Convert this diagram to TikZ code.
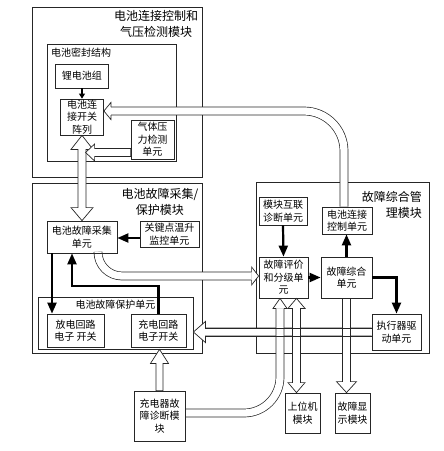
\documentclass[tikz,border=0pt]{standalone}
\usepackage{fontspec}
\newfontfamily\cjk{Noto Sans CJK SC}
\usetikzlibrary{calc,arrows.meta}
\pgfdeclarelayer{back}
\pgfdeclarelayer{front}
\pgfsetlayers{back,main,front}
\newcommand\uf{\cjk\fontsize{10}{12.5}\selectfont}
\newcommand\tf{\cjk\fontsize{12}{16}\selectfont}
\begin{document}
\begin{tikzpicture}[x=1pt,y=-1pt,
  box/.style={draw=black!85, line width=0.8pt, inner sep=0pt, align=center, font=\uf},
  lbl/.style={inner sep=0pt, align=center, font=\uf},
  ttl/.style={inner sep=0pt, font=\tf},
  hollow/.style={draw=black!85, line width=0.7pt, fill=white, line join=miter},
  hline/.style={draw=black!85, line width=0.7pt, line join=miter},
  tube/.style={draw=black!85, line width=0.7pt, double=white, double distance=7.3pt},
  bar/.style={line width=2.2pt, -{Triangle[length=11pt,width=9pt]}},
  thinarr/.style={line width=1.1pt, -{Triangle[length=5pt,width=6pt]}}
]
\useasboundingbox (0,0) rectangle (444,451);

% ---- modules (back layer)
\begin{pgfonlayer}{back}
\fill[white] (0,0) rectangle (444,451);
\node[box, minimum width=170pt, minimum height=170pt] (m1) at (117,92) {};
\node[box, minimum width=129pt, minimum height=117pt] (seal) at (111.5,102.5) {};
\node[box, minimum width=170pt, minimum height=170pt] (m2) at (117,268) {};
\node[box, minimum width=155pt, minimum height=52pt] (bh) at (115.5,323) {};
\node[box, minimum width=173pt, minimum height=171pt] (m3) at (342.5,267.5) {};
\node[ttl, align=center] (t1) at (156,24) {电池连接控制和\\气压检测模块};
\node[ttl, align=center] (t2) at (160,202) {电池故障采集/\\保护模块};
\node[ttl, align=right, anchor=east] (t3) at (422,204.5) {故障综合管\\理模块};
\node[lbl, anchor=west] (sealt) at (51,53) {电池密封结构};
\node[lbl] (bht) at (115.5,305) {电池故障保护单元};
\end{pgfonlayer}

% ---- units (front layer)
\begin{pgfonlayer}{front}
\node[box, minimum width=53pt, minimum height=24pt] (li) at (82,76) {锂电池组};
\node[box, minimum width=43pt, minimum height=36pt] (kg) at (82,117) {电池连\\接开关\\阵列};
\node[box, minimum width=43pt, minimum height=39pt] (qt) at (152.5,139.5) {气体压\\力检测\\单元};
\node[box, minimum width=70pt, minimum height=32pt] (cj) at (82,237) {电池故障采集\\单元};
\node[box, minimum width=59pt, minimum height=26pt] (gj) at (169.5,234) {关键点温升\\监控单元};
\node[box, minimum width=57pt, minimum height=33pt] (fd) at (75.5,330.5) {放电回路\\电子 开关};
\node[box, minimum width=55pt, minimum height=33pt] (cd) at (158.5,330.5) {充电回路\\电子开关};
\node[box, minimum width=48pt, minimum height=28pt] (hl) at (283,211) {模块互联\\诊断单元};
\node[box, minimum width=50pt, minimum height=27pt] (lk) at (347,220.5) {电池连接\\控制单元};
\node[box, minimum width=49pt, minimum height=41pt] (pj) at (283.5,277.5) {故障评价\\和分级单\\元};
\node[box, minimum width=51pt, minimum height=41pt] (zh) at (346.5,277.5) {故障综合\\单元};
\node[box, minimum width=49pt, minimum height=36pt] (zx) at (396.5,332) {执行器驱\\动单元};
\node[box, minimum width=51pt, minimum height=50pt] (cdq) at (159.5,416) {充电器故\\障诊断模\\块};
\node[box, minimum width=35pt, minimum height=40pt] (sw) at (302.5,413) {上位机\\模块};
\node[box, minimum width=35pt, minimum height=40pt] (xs) at (352.5,413) {故障显\\示模块};

% thick connectors
\draw[thinarr] (li.south) -- (kg.north);
\draw[bar] ($(gj.west)+(0,4)$) -- ($(cj.east)+(0,1)$);
\draw[bar] ($(cj.south)+(-30,0)$) -- ($(fd.north)+(-23.5,0)$);
\draw[bar] (cd.north) -- ++(0,-28) -| ($(cj.south)+(-10,0)$);
\draw[bar] (hl.south) -- (pj.north);
\draw[bar] (pj.east) -- (zh.west);
\draw[bar] (zh.north) -- (zh.north |- lk.south);
\draw[bar] (zh.east) -| (zx.north);
\end{pgfonlayer}

% ---- hollow connectors (main layer)
% A: switch array <-> fault acquisition
\draw[hollow] (kg.south) -- ++(11,14) -- ++(-7,0) -- ($(cj.north)+(4,-13)$) -- ++(7,0)
  -- (cj.north) -- ++(-11,-13) -- ++(7,0) -- ($(kg.south)+(-4,14)$) -- ++(-7,0) -- cycle;
% B: gas pressure -> A
\coordinate (bT) at ($(qt.west)+(-45,13)$);
\draw[hollow] (bT) -- ++(9,-8.5) -- ++(0,4.5) -- ++(36,0) -- ++(0,8) -- ++(-36,0) -- ++(0,4.5) -- cycle;
% C: connection control -> switch array
\coordinate (cT) at ($(kg.east)+(0,-6)$);
\draw[tube, rounded corners=40pt] ($(lk.north)+(-3,0)$) |- ($(cT)+(7,0)$);
\draw[hollow] ($(cT)+(7,-4)$) -- ++(0,-4.5) -- (cT) -- ++(7,8.5) -- ++(0,-4.5);
% D: acquisition -> evaluation
\coordinate (dS) at ($(cj.south)+(16,0)$);
\coordinate (dT) at ($(pj.west)+(0,-1.5)$);
\draw[tube, rounded corners=24pt] (dS) |- ($(dT)+(-7,0)$);
\draw[hollow] ($(dT)+(-7,-4)$) -- ++(0,-5) -- (dT) -- ++(-7,9) -- ++(0,-5);
% E: actuator driver -> protection unit
\coordinate (eT) at (bh.east |- zx.west);
\draw[hollow] ($(zx.west)+(0,-4)$) -- ($(eT)+(12,-4)$) -- ++(0,-6.5) -- (eT) -- ++(12,10.5) -- ++(0,-6.5) -- ($(zx.west)+(0,4)$);
% F: charger diagnosis -> charge switch
\coordinate (fT) at (cdq.north |- bh.south);
\draw[hollow] (fT) -- ++(9,14) -- ++(-5.5,0) -- ($(cdq.north)+(3.5,0)$) -- ++(-7,0) -- ($(fT)+(-3.5,14)$) -- ++(-5.5,0) -- cycle;
% G: charger diagnosis -> evaluation
\coordinate (gT) at ($(pj.south)+(-3.5,0)$);
\draw[tube, rounded corners=36pt] ($(cdq.east)+(0,-3)$) -| ($(gT)+(0,10)$);
\draw[hollow] ($(gT)+(-4,10)$) -- ++(-3,0) -- (gT) -- ++(7,10) -- ++(-3,0);
% H: evaluation <-> host module
\coordinate (hT) at ($(pj.south)+(13,0)$);
\coordinate (hB) at (hT |- sw.north);
\draw[hollow] (hT) -- ++(8.5,10) -- ++(-4.5,0) -- ($(hB)+(4,-10)$) -- ++(4.5,0) -- (hB)
  -- ++(-8.5,-10) -- ++(4.5,0) -- ($(hT)+(-4,10)$) -- ++(-4.5,0) -- cycle;
% I: synthesis -> display
\coordinate (iT) at (zh.south |- xs.north);
\draw[hollow] ($(zh.south)+(-4,0)$) -- ($(iT)+(-4,-11)$) -- ++(-6,0) -- (iT) -- ++(10,-11) -- ++(-6,0) -- ($(zh.south)+(4,0)$);
% E outline again over crossing tubes
\draw[hline] ($(zx.west)+(0,-4)$) -- ($(eT)+(12,-4)$);
\draw[hline] ($(zx.west)+(0,4)$) -- ($(eT)+(12,4)$);
\end{tikzpicture}
\end{document}
